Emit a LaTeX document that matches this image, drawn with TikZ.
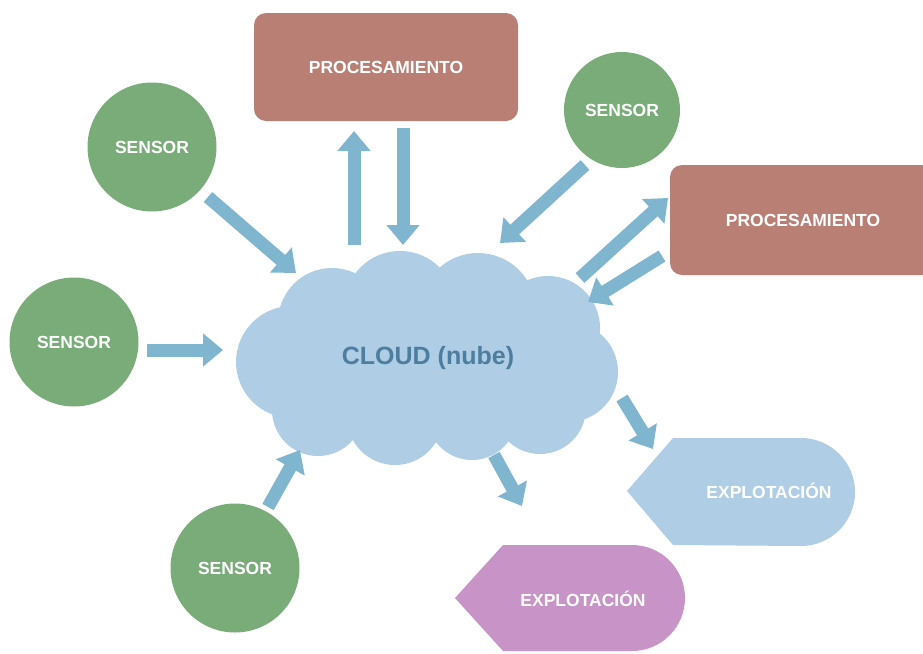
\documentclass[tikz,border=0pt]{standalone}
\usepackage{fontspec}
\newfontfamily\labfont{Liberation Sans}
\usetikzlibrary{arrows.meta}
\definecolor{sensg}{HTML}{79AC78}
\definecolor{procb}{HTML}{B97F75}
\definecolor{cloudb}{HTML}{AFCDE5}
\definecolor{arrowc}{HTML}{80B5CF}
\definecolor{explp}{HTML}{C893C6}
\definecolor{cloudt}{HTML}{4D7E9E}
\tikzset{
  sensor/.style={circle, fill=sensg, minimum size=129pt, inner sep=0pt, text=white, font=\labfont\bfseries\fontsize{17.5}{20}\selectfont},
  procbox/.style={rectangle, rounded corners=12pt, fill=procb, text=white, font=\labfont\bfseries\fontsize{17.5}{20}\selectfont},
  labtext/.style={text=white, font=\labfont\bfseries\fontsize{17.5}{20}\selectfont},
  flow/.style={draw=arrowc, line width=13pt, -{Triangle[length=20pt,width=32pt]}},
}
\begin{document}
\begin{tikzpicture}[x=1pt,y=-1pt]
\useasboundingbox (0,0) rectangle (923,653);
% cloud
\begin{scope}[fill=cloudb]
  \fill (430,360) ellipse [x radius=155, y radius=80];
  \fill (400,307) circle (56);
  \fill (478,311) circle (58);
  \fill (332,322) circle (54);
  \fill (548,328) circle (52);
  \fill (292,362) circle (56);
  \fill (568,372) circle (50);
  \fill (318,410) circle (46);
  \fill (395,417) circle (48);
  \fill (472,415) circle (45);
  \fill (540,408) circle (46);
\end{scope}
\node[text=cloudt, font=\labfont\bfseries\fontsize{25}{30}\selectfont] (cloud) at (428,358) {CLOUD (nube)};
% sensors
\node[sensor] (s1) at (152,147) {SENSOR};
\node[sensor] (s2) at (74,342) {SENSOR};
\node[sensor] (s3) at (235,568) {SENSOR};
\node[sensor, minimum size=116pt] (s4) at (622,110) {SENSOR};
% processing
\node[procbox, minimum width=264pt, minimum height=108pt] (p1) at (386,67) {PROCESAMIENTO};
\node[procbox, minimum width=266pt, minimum height=110pt] (p2) at (803,220) {PROCESAMIENTO};
% explotacion shapes
\fill[cloudb] (627,491) -- (673,438) -- (801,438) arc[start angle=-90, end angle=90, radius=54] -- (673,545) -- cycle;
\node[labtext] (e1) at (769,491) {EXPLOTACIÓN};
\fill[explp] (455,598) -- (503,545) -- (632,545) arc[start angle=-90, end angle=90, radius=53] -- (503,651) -- cycle;
\node[labtext] (e2) at (583,599) {EXPLOTACIÓN};
% arrow end points
\coordinate (a1s) at (208,197); \coordinate (a1e) at (296,273);
\coordinate (a2s) at (147,350); \coordinate (a2e) at (223,350);
\coordinate (a3s) at (268,507); \coordinate (a3e) at (300,450);
\coordinate (a4s) at (354,245); \coordinate (a4e) at (354,131);
\coordinate (a5s) at (403,128); \coordinate (a5e) at (403,245);
\coordinate (a6s) at (585,165); \coordinate (a6e) at (500,243);
\coordinate (a7s) at (580,278); \coordinate (a7e) at (668,198);
\coordinate (a8s) at (662,256); \coordinate (a8e) at (588,302);
\coordinate (a9s) at (622,398); \coordinate (a9e) at (653,449);
\coordinate (a10s) at (494,455); \coordinate (a10e) at (522,506);
\draw[flow] (a1s) -- (a1e);
\draw[flow] (a2s) -- (a2e);
\draw[flow] (a3s) -- (a3e);
\draw[flow] (a4s) -- (a4e);
\draw[flow] (a5s) -- (a5e);
\draw[flow] (a6s) -- (a6e);
\draw[flow] (a7s) -- (a7e);
\draw[flow] (a8s) -- (a8e);
\draw[flow] (a9s) -- (a9e);
\draw[flow] (a10s) -- (a10e);
\end{tikzpicture}
\end{document}
